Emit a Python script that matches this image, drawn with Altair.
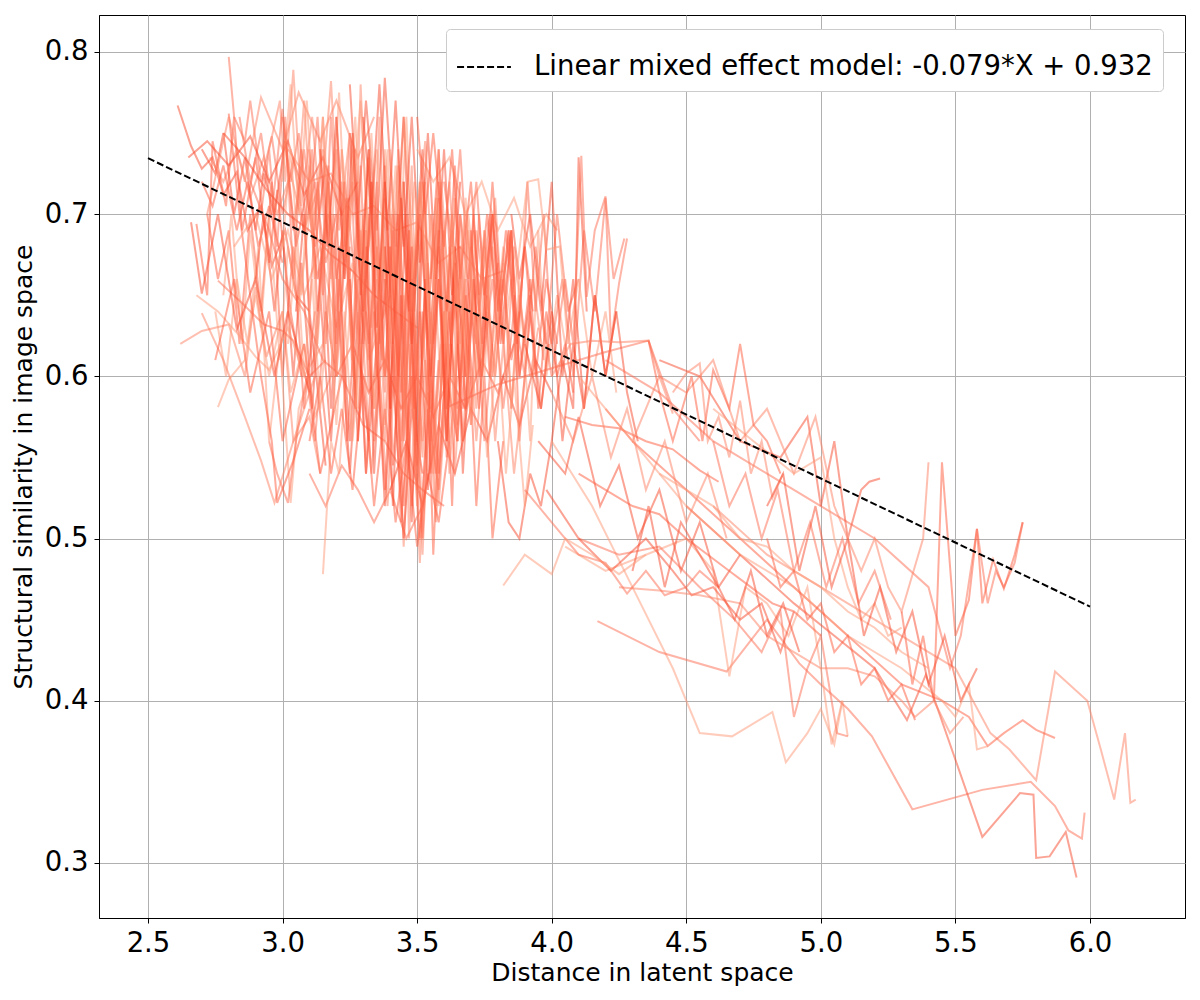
import altair as alt
import pandas as pd

# ---------------- data ----------------
# left / upper part of the dense cluster (one inner list per trajectory)
upper_x = [
    [2.61,2.66,2.70,2.74,2.78,2.83,2.87,2.92,2.96,3.01,3.05,3.10,3.16],
    [2.62,2.70,2.80,2.86,2.90,2.94,3.00,3.04,3.10,3.14],
    [2.68,2.72,2.74,2.79,2.82,2.85,2.90,2.95,2.98,3.03,3.07],
    [2.76,2.80,2.86,2.90,2.95,3.00,3.03,3.08,3.12,3.18],
    [2.80,2.82,2.86,2.88,2.92,2.96,3.00,3.04,3.08,3.12,3.16,3.20],
    [2.70,2.75,2.78,2.82,2.86,2.90,2.93,2.97,3.01,3.05,3.09,3.13,3.17],
    [2.95,2.99,3.01,3.04,3.07,3.11,3.14,3.18,3.21,3.25,3.29,3.32,3.36],
    [2.72,2.76,2.80,2.84,2.88,2.92,2.96,3.00,3.04,3.08,3.12],
    [2.75,2.79,2.83,2.87,2.91,2.95,2.99,3.03,3.06,3.10],
    [2.84,2.88,2.92,2.96,3.00,3.04,3.08,3.12,3.16,3.20,3.24,3.28],
    [2.90,2.93,2.97,3.00,3.04,3.07,3.11,3.14,3.18,3.21,3.25,3.28,3.32],
    [2.73,2.78,2.83,2.88,2.93,2.98,3.03,3.08,3.13],
    [2.70,2.74,2.78,2.83,2.87,2.91,2.95,3.00],
    [2.78,2.81,2.85,2.88,2.92,2.95,2.99,3.02,3.06,3.10],
    [2.95,2.98,3.02,3.05,3.09,3.12,3.16,3.20],
]
upper_y = [
    [.767,.742,.728,.735,.712,.726,.690,.705,.668,.690,.650,.640,.545],
    [.620,.628,.632,.600,.655,.612,.640,.560,.575,.540],
    [.694,.650,.745,.705,.760,.690,.735,.670,.715,.640,.600],
    [.581,.598,.610,.650,.600,.640,.590,.620,.575,.600],
    [.797,.760,.745,.770,.720,.748,.700,.735,.690,.720,.670,.700],
    [.740,.725,.750,.700,.735,.690,.725,.700,.745,.680,.715,.660,.700],
    [.740,.770,.720,.789,.705,.760,.700,.782,.690,.750,.675,.735,.660],
    [.700,.660,.690,.620,.700,.640,.720,.600,.680,.580,.640],
    [.640,.600,.660,.620,.680,.560,.620,.522,.580,.600],
    [.760,.720,.750,.700,.765,.690,.740,.680,.730,.660,.710,.640],
    [.660,.700,.640,.690,.600,.670,.580,.650,.560,.640,.540,.620,.560],
    [.735,.720,.740,.710,.735,.700,.725,.690,.715],
    [.720,.705,.730,.690,.720,.680,.705,.670],
    [.650,.700,.620,.690,.630,.700,.610,.680,.640,.700],
    [.560,.540,.522,.560,.600,.560,.640,.600],
]

# slanted trajectories crossing the cluster
diag_x = [
    [2.66,2.70,2.76,2.83,2.90,2.97,3.02,3.10],
    [2.70,2.78,2.86,2.92,2.97,3.04,3.12],
    [2.80,2.84,2.88,2.92,2.96,2.98,3.04,3.10],
    [2.68,2.76,2.84,2.90,2.95,3.02,3.08,3.15],
    [2.76,2.85,2.93,3.00,3.04,3.10,3.16],
    [2.65,2.72,2.80,2.88,2.95,3.02,3.08,3.15,3.22,3.28],
    [2.72,2.80,2.86,2.92,3.00,3.06,3.14,3.20,3.28,3.34],
    [2.75,2.82,2.88,2.95,3.00,3.08,3.14,3.22],
    [2.82,2.90,2.96,3.02,3.08,3.14,3.20,3.26,3.32,3.40],
    [2.88,2.95,3.00,3.08,3.15,3.22,3.30,3.38,3.45,3.52,3.60],
    [2.78,2.86,2.94,3.02,3.10,3.18,3.26,3.34,3.42,3.50],
    [3.02,3.10,3.18,3.26,3.34,3.42,3.50,3.58,3.66,3.74,3.82],
    [3.20,3.26,3.32,3.38,3.44,3.50,3.56,3.62,3.68,3.74,3.80,3.86],
    [3.50,3.56,3.62,3.68,3.74,3.80,3.86,3.92,3.98,4.02],
    [3.10,3.16,3.22,3.28,3.34,3.40,3.46,3.52],
    [3.40,3.46,3.52,3.58,3.64,3.70,3.76,3.82,3.88,3.94,4.00],
]
diag_y = [
    [.695,.651,.700,.629,.660,.600,.640,.590],
    [.639,.610,.575,.548,.522,.560,.600],
    [.762,.700,.650,.600,.560,.522,.548,.580],
    [.650,.640,.625,.612,.604,.630,.600,.620],
    [.659,.645,.632,.628,.622,.600,.610],
    [.735,.745,.730,.748,.720,.745,.712,.735,.700,.720],
    [.700,.760,.720,.772,.740,.775,.745,.770,.735,.760],
    [.610,.660,.590,.640,.560,.620,.540,.600],
    [.680,.700,.660,.690,.650,.680,.630,.670,.610,.650],
    [.720,.690,.660,.640,.610,.600,.570,.560,.540,.530,.520],
    [.750,.735,.715,.700,.690,.675,.665,.650,.640,.630],
    [.740,.720,.725,.700,.705,.690,.695,.670,.680,.660,.665],
    [.600,.620,.590,.610,.580,.600,.575,.600,.580,.610,.590,.620],
    [.740,.720,.735,.700,.720,.690,.710,.680,.700,.690],
    [.540,.520,.545,.530,.510,.530,.500,.520],
    [.530,.560,.520,.570,.540,.580,.560,.600,.570,.610,.590],
]

# core of the cluster (x 3.0 - 3.7)
core_x = [
    [3.05,3.08,3.12,3.15,3.18,3.22,3.26,3.29,3.33,3.36,3.40,3.43,3.46,3.50],
    [3.10,3.13,3.17,3.20,3.24,3.27,3.31,3.34,3.38,3.41,3.45,3.48,3.52,3.55,3.58],
    [3.15,3.18,3.21,3.25,3.28,3.32,3.35,3.38,3.42,3.45,3.49,3.52,3.56,3.60,3.64],
    [3.20,3.23,3.27,3.30,3.33,3.37,3.40,3.44,3.47,3.50,3.54,3.57,3.61,3.65],
    [3.25,3.28,3.31,3.35,3.38,3.42,3.45,3.48,3.52,3.55,3.58,3.62,3.66,3.70],
    [3.30,3.33,3.36,3.39,3.42,3.45,3.48,3.51,3.54,3.57,3.61,3.64,3.68,3.72,3.76],
    [3.35,3.38,3.41,3.44,3.47,3.50,3.53,3.56,3.60,3.63,3.66,3.70,3.73,3.77,3.80],
    [3.40,3.43,3.46,3.49,3.52,3.55,3.58,3.61,3.64,3.68,3.71,3.75,3.78,3.82,3.85],
    [3.00,3.03,3.06,3.10,3.13,3.16,3.20,3.23,3.26,3.30,3.33,3.36,3.40,3.43],
    [3.05,3.08,3.11,3.15,3.18,3.21,3.25,3.28,3.31,3.35,3.38,3.41,3.45,3.48,3.52],
    [3.12,3.15,3.18,3.22,3.25,3.28,3.32,3.35,3.38,3.42,3.45,3.48,3.52,3.55],
    [3.18,3.21,3.24,3.28,3.31,3.34,3.38,3.41,3.44,3.48,3.51,3.54,3.58,3.61,3.65],
    [3.22,3.25,3.29,3.32,3.35,3.39,3.42,3.45,3.49,3.52,3.55,3.59,3.62,3.66,3.69,3.73],
    [3.28,3.31,3.34,3.38,3.41,3.44,3.48,3.51,3.54,3.58,3.61,3.64,3.68,3.71,3.75,3.78],
    [3.28,3.30,3.33,3.35,3.38,3.40,3.43,3.45,3.48,3.50,3.53,3.55],
    [3.38,3.40,3.43,3.45,3.48,3.50,3.53,3.55,3.58,3.60,3.63,3.65,3.68],
    [3.10,3.14,3.18,3.22,3.26,3.30,3.34,3.38,3.42,3.46,3.50,3.54,3.58,3.62],
    [3.00,3.03,3.07,3.10,3.13,3.17,3.20,3.23,3.27,3.30,3.34,3.37,3.40],
    [3.15,3.18,3.22,3.25,3.28,3.32,3.35,3.38,3.42,3.45,3.48,3.52],
    [3.25,3.28,3.31,3.34,3.38,3.41,3.44,3.48,3.51,3.54,3.58,3.61,3.64,3.68],
    [3.45,3.47,3.50,3.52,3.55,3.57,3.60,3.62,3.65,3.67,3.70],
    [3.42,3.45,3.48,3.52,3.55,3.58,3.62,3.65,3.68,3.72,3.75,3.78,3.82],
]
core_y = [
    [.700,.770,.660,.760,.620,.740,.600,.780,.630,.760,.580,.730,.560,.700],
    [.740,.640,.720,.600,.705,.580,.690,.560,.680,.545,.650,.520,.640,.540,.610],
    [.478,.560,.540,.640,.580,.700,.620,.740,.650,.760,.660,.720,.620,.690,.600],
    [.760,.680,.740,.640,.720,.610,.700,.590,.690,.560,.670,.540,.650,.580],
    [.780,.700,.770,.690,.784,.680,.760,.640,.740,.620,.720,.600,.700,.640],
    [.620,.540,.600,.520,.620,.495,.600,.485,.590,.510,.620,.540,.650,.560,.640],
    [.700,.600,.690,.550,.680,.530,.660,.490,.640,.520,.680,.570,.700,.600,.670],
    [.740,.660,.760,.640,.720,.600,.740,.620,.710,.580,.690,.600,.680,.620,.660],
    [.760,.720,.750,.700,.760,.680,.740,.660,.720,.640,.700,.620,.680,.600],
    [.640,.700,.600,.680,.580,.660,.560,.640,.540,.620,.520,.600,.500,.580,.540],
    [.700,.740,.660,.720,.640,.700,.620,.680,.600,.660,.580,.650,.560,.620],
    [.600,.680,.560,.660,.540,.640,.530,.620,.510,.600,.500,.580,.530,.600,.560],
    [.740,.690,.770,.680,.740,.650,.730,.640,.720,.610,.700,.590,.680,.620,.700,.640],
    [.560,.640,.580,.680,.600,.700,.620,.720,.640,.710,.600,.680,.580,.660,.560,.620],
    [.700,.620,.720,.600,.710,.580,.700,.560,.680,.545,.660,.580],
    [.720,.640,.740,.620,.730,.600,.720,.590,.700,.600,.690,.570,.650],
    [.560,.600,.540,.580,.530,.600,.520,.580,.510,.560,.495,.540,.510,.560],
    [.680,.740,.650,.730,.620,.720,.600,.710,.590,.700,.580,.680,.620],
    [.650,.760,.640,.750,.620,.740,.600,.730,.590,.720,.580,.700],
    [.660,.560,.680,.540,.660,.520,.650,.510,.640,.530,.660,.560,.680,.600],
    [.640,.500,.620,.490,.600,.520,.640,.540,.620,.560,.600],
    [.600,.520,.620,.500,.600,.540,.640,.560,.660,.520,.600,.500,.560],
]

# extra trajectories filling the densest part of the cluster
dense_x = [
    [3.00,3.03,3.06,3.09,3.12,3.15,3.18,3.21,3.24,3.27,3.30,3.33,3.36,3.39,3.42,3.45],
    [3.08,3.11,3.14,3.17,3.20,3.23,3.26,3.29,3.32,3.35,3.38,3.41,3.44,3.47,3.50],
    [3.30,3.33,3.36,3.39,3.42,3.45,3.48,3.51,3.54,3.57,3.60,3.63,3.66],
    [3.20,3.23,3.26,3.29,3.32,3.35,3.38,3.41,3.44,3.47,3.50,3.53,3.56,3.59],
    [3.40,3.43,3.46,3.49,3.52,3.55,3.58,3.61,3.64,3.67,3.70,3.73,3.76],
    [3.48,3.51,3.54,3.57,3.60,3.63,3.66,3.69,3.72,3.75,3.78,3.81],
    [2.92,2.95,2.98,3.01,3.04,3.07,3.10,3.13,3.16,3.19,3.22,3.25],
    [3.14,3.17,3.20,3.23,3.26,3.29,3.32,3.35,3.38,3.41,3.44,3.47],
    [3.35,3.38,3.41,3.44,3.47,3.50,3.53,3.56,3.59,3.62,3.65],
    [3.55,3.58,3.61,3.64,3.67,3.70,3.73,3.76,3.79,3.82,3.85,3.88],
    [3.02,3.05,3.08,3.11,3.14,3.17,3.20,3.23,3.26,3.29],
    [3.60,3.63,3.66,3.69,3.72,3.75,3.78,3.81,3.84,3.87,3.90,3.93],
]
dense_y = [
    [.720,.780,.700,.770,.690,.760,.680,.775,.670,.760,.660,.750,.650,.740,.640,.720],
    [.690,.740,.650,.730,.620,.720,.610,.730,.600,.720,.590,.700,.580,.690,.600],
    [.760,.700,.780,.690,.770,.680,.760,.670,.750,.660,.740,.650,.720],
    [.640,.700,.610,.690,.590,.680,.570,.660,.560,.650,.540,.640,.560,.620],
    [.680,.600,.700,.580,.690,.560,.680,.550,.670,.580,.690,.600,.660],
    [.660,.720,.640,.710,.620,.700,.610,.690,.600,.680,.620,.660],
    [.700,.740,.680,.760,.660,.740,.640,.720,.620,.700,.600,.680],
    [.740,.680,.760,.660,.750,.650,.740,.630,.720,.620,.710,.640],
    [.620,.560,.640,.540,.620,.520,.610,.540,.630,.560,.600],
    [.600,.660,.580,.650,.560,.640,.580,.650,.600,.660,.610,.640],
    [.620,.680,.600,.660,.580,.650,.570,.640,.560,.620],
    [.720,.680,.740,.660,.720,.650,.700,.640,.690,.620,.680,.640],
]

# right edge of the cluster (x 3.45 - 4.3)
edge_x = [
    [3.45,3.48,3.51,3.55,3.58,3.61,3.64,3.67,3.71,3.74,3.78,3.81,3.85,3.88,3.92],
    [3.50,3.53,3.56,3.59,3.63,3.66,3.69,3.72,3.76,3.79,3.83,3.86,3.90,3.93,3.97],
    [3.55,3.58,3.61,3.64,3.68,3.71,3.74,3.78,3.81,3.85,3.88,3.92,3.96,3.99],
    [3.62,3.65,3.68,3.72,3.75,3.78,3.82,3.85,3.88,3.92,3.95,3.98,4.02,4.05],
    [3.70,3.73,3.77,3.80,3.84,3.87,3.91,3.94,3.97,4.00,4.04,4.08,4.12,4.16,4.20,4.23,4.27],
    [3.80,3.84,3.88,3.92,3.96,4.00,4.04,4.08,4.10,4.13],
    [3.35,3.38,3.42,3.45,3.48,3.52,3.55,3.58,3.62,3.65,3.68,3.72,3.75,3.79,3.82,3.86,3.90],
    [3.50,3.53,3.56,3.60,3.63,3.66,3.70,3.73,3.76,3.80,3.83,3.87,3.90,3.94,3.98,4.02],
    [3.60,3.63,3.66,3.70,3.73,3.76,3.80,3.83,3.86,3.90,3.93],
    [3.70,3.74,3.78,3.82,3.86,3.90,3.94,3.98,4.02,4.06,4.10],
    [3.85,3.88,3.92,3.96,4.00,4.04,4.08,4.12,4.16,4.20,4.24],
    [3.55,3.58,3.62,3.65,3.68,3.72,3.75,3.78,3.82,3.85,3.88,3.92,3.95],
    [3.75,3.78,3.82,3.85,3.88,3.92,3.95,3.98,4.02,4.05,4.08],
    [3.86,3.91,3.95,3.98,4.03,4.06,4.10,4.15,4.20,4.24],
    [3.96,4.00,4.05,4.08,4.11,4.13,4.16,4.20,4.22,4.25,4.28],
    [3.90,3.96,4.00,4.04,4.08,4.12,4.16,4.20,4.24,4.28,4.32],
    [4.00,4.07,4.15,4.25,4.36,4.40,4.45],
    [4.05,4.15,4.25,4.35,4.45,4.55,4.62],
]
edge_y = [
    [.720,.620,.700,.600,.690,.560,.670,.540,.660,.600,.700,.620,.690,.600,.650],
    [.690,.745,.650,.720,.620,.700,.600,.690,.640,.710,.600,.680,.620,.660,.610],
    [.660,.740,.640,.730,.600,.700,.620,.720,.650,.690,.560,.640,.580,.620],
    [.700,.640,.710,.620,.690,.600,.680,.580,.660,.560,.690,.600,.650,.620],
    [.680,.640,.700,.620,.690,.600,.720,.640,.700,.620,.660,.600,.690,.640,.710,.660,.685],
    [.560,.510,.500,.540,.520,.560,.610,.580,.735,.640],
    [.660,.600,.680,.580,.660,.550,.640,.520,.620,.560,.640,.580,.660,.560,.620,.540,.600],
    [.760,.700,.750,.680,.740,.660,.720,.650,.700,.640,.690,.620,.680,.600,.660,.620],
    [.640,.580,.660,.570,.640,.550,.620,.540,.600,.520,.570],
    [.640,.600,.660,.580,.640,.600,.680,.620,.700,.640,.660],
    [.700,.660,.700,.640,.720,.600,.660,.580,.650,.600,.640],
    [.700,.650,.720,.640,.700,.620,.690,.600,.670,.580,.650,.600,.630],
    [.650,.700,.620,.690,.600,.660,.580,.640,.600,.620,.590],
    [.650,.720,.7215,.678,.680,.620,.660,.600,.640,.590],
    [.640,.600,.660,.620,.736,.649,.690,.711,.622,.657,.685],
    [.620,.580,.640,.560,.620,.580,.650,.600,.640,.590,.560],
    [.600,.620,.622,.621,.622,.600,.577],
    [.575,.570,.568,.560,.555,.542,.535],
]

# long tail towards larger distances
tail_x = [
    [4.00,4.15,4.30,4.45,4.55,4.67,4.82,4.87,4.95,5.00,5.05,5.08,5.10],
    [4.17,4.40,4.65,4.80,4.92,5.00,5.10,5.19,5.34,5.60,5.78,5.87,5.92,5.97,5.98],
    [4.50,4.70,4.90,5.05,5.20,5.32,5.39,5.60,5.74,5.79,5.80,5.85,5.91,5.95],
    [4.60,4.80,5.00,5.20,5.40,5.50,5.63,5.70,5.80,5.87,5.99,6.04,6.09,6.13,6.15,6.17],
    [4.30,4.50,4.70,4.90,5.10,5.30,5.45,5.55,5.62,5.68,5.75,5.80,5.87],
    [4.10,4.30,4.50,4.70,4.90,5.10,5.30,5.45,5.50,5.55,5.58,5.62],
    [4.20,4.40,4.60,4.80,5.00,5.20,5.40,5.48,5.52,5.58,5.62,5.65,5.68,5.72,5.75],
    [4.40,4.55,4.70,4.85,4.95,5.00,5.05,5.10,5.15,5.18,5.22],
    [4.20,4.30,4.40,4.50,4.60,4.70,4.80,4.90,4.98,5.05,5.10,5.15,5.20,5.25,5.30,5.38,5.40],
    [4.36,4.40,4.45,4.52,4.56,4.60,4.66,4.70,4.75,4.80,4.85],
    [4.05,4.20,4.35,4.50,4.60,4.66,4.72,4.80,4.88,4.95,5.00,5.04,5.08],
    [4.10,4.25,4.40,4.55,4.68,4.78,4.85,4.90,4.95,5.00,5.06,5.10],
    [3.98,4.10,4.22,4.35,4.45,4.52,4.60,4.70,4.78,4.85,4.90],
    [4.25,4.40,4.55,4.70,4.80,4.90,5.00,5.10,5.20,5.30,5.35,5.42,5.48,5.53],
    [5.30,5.34,5.38,5.42,5.45,5.50,5.55,5.58,5.60,5.64,5.68,5.72,5.75],
    [4.60,4.75,4.90,5.00,5.05,5.10,5.15,5.20,5.25,5.30],
    [3.90,4.00,4.10,4.20,4.28,4.35,4.42,4.50,4.55,4.62],
    [4.30,4.36,4.42,4.48,4.55,4.62,4.68,4.74,4.80,4.86,4.92],
    [4.45,4.50,4.55,4.58,4.62,4.66,4.70,4.74,4.78,4.82,4.86],
    [4.80,4.85,4.90,4.95,5.00,5.05,5.10,5.15,5.20,5.25,5.30,5.35],
    [3.82,3.90,4.00,4.05,4.15,4.25,4.35],
    [3.60,3.80,4.00,4.20,4.36,4.45,4.55],
]
tail_y = [
    [.560,.520,.470,.420,.380,.378,.393,.362,.380,.395,.373,.400,.378],
    [.449,.430,.418,.450,.423,.410,.395,.378,.333,.345,.350,.335,.320,.315,.331],
    [.520,.490,.460,.440,.420,.388,.416,.316,.343,.342,.303,.304,.319,.291],
    [.520,.490,.470,.450,.430,.420,.380,.370,.351,.418,.400,.370,.339,.380,.337,.339],
    [.560,.530,.500,.470,.440,.410,.400,.390,.372,.380,.388,.382,.377],
    [.600,.560,.520,.490,.470,.440,.420,.400,.390,.410,.370,.372],
    [.610,.590,.560,.540,.520,.500,.470,.420,.440,.506,.460,.480,.470,.485,.510],
    [.610,.600,.560,.550,.575,.520,.560,.500,.530,.535,.537],
    [.580,.560,.600,.590,.610,.560,.580,.540,.575,.520,.500,.480,.500,.470,.455,.500,.547],
    [.622,.590,.560,.600,.560,.604,.580,.620,.570,.560,.540],
    [.495,.480,.490,.500,.480,.415,.470,.460,.440,.470,.420,.373,.400],
    [.500,.490,.495,.470,.450,.430,.455,.390,.420,.440,.380,.378],
    [.530,.500,.480,.500,.480,.465,.470,.450,.460,.430,.455],
    [.470,.468,.465,.460,.440,.430,.420,.420,.415,.400,.390,.400,.380,.390],
    [.455,.410,.440,.400,.547,.440,.462,.506,.460,.487,.469,.490,.510],
    [.580,.560,.540,.550,.500,.470,.450,.460,.440,.445],
    [.530,.510,.490,.485,.466,.480,.465,.470,.480,.470],
    [.480,.520,.470,.510,.490,.470,.450,.480,.440,.460,.430],
    [.590,.602,.608,.560,.575,.550,.585,.540,.560,.525,.540],
    [.500,.470,.480,.450,.460,.430,.440,.410,.420,.400,.410,.388],
    [.471,.490,.478,.500,.490,.478,.490],
    [.580,.595,.605,.615,.622,.580,.560],
]

# extra tail trajectories between x 4.0 and 5.6
low_x = [
    [3.95,4.05,4.10,4.18,4.25,4.32,4.40,4.48,4.55,4.62,4.70],
    [4.00,4.08,4.15,4.22,4.28,4.35,4.42,4.50,4.58,4.65],
    [4.10,4.20,4.30,4.40,4.50,4.58,4.66,4.74,4.82,4.90,5.00],
    [4.40,4.50,4.60,4.70,4.80,4.90,5.00,5.10,5.20,5.30,5.40],
    [4.60,4.66,4.72,4.78,4.84,4.90,4.96,5.02,5.08,5.14,5.20,5.26],
    [4.80,4.86,4.92,4.98,5.04,5.10,5.16,5.22,5.28,5.34,5.40,5.46,5.52,5.58],
]
low_y = [
    [.560,.540,.575,.520,.545,.500,.530,.480,.510,.470,.490],
    [.590,.560,.600,.550,.580,.530,.560,.510,.540,.500],
    [.540,.530,.520,.515,.500,.490,.480,.470,.460,.455,.440],
    [.540,.530,.520,.500,.495,.480,.470,.455,.445,.430,.420],
    [.560,.520,.540,.500,.530,.480,.510,.470,.500,.460,.480,.450],
    [.520,.540,.480,.520,.470,.500,.440,.470,.430,.455,.410,.440,.400,.420],
]

# linear mixed effect model line (-0.079*X + 0.932) end points
model_x = [2.5, 6.0]
model_y = [0.7345, 0.458]
model_label = "Linear mixed effect model: -0.079*X + 0.932"

x_ticks = [2.5, 3.0, 3.5, 4.0, 4.5, 5.0, 5.5, 6.0]
y_ticks = [0.3, 0.4, 0.5, 0.6, 0.7, 0.8]

# ---------------- build table ----------------
shades = ["s0", "s1", "s2", "s3", "s4"]
shade_colors = ["#f8482a", "#ff5a3c", "#fd6a4d", "#ff8062", "#ff9a78"]

rows = []
sid = 0
groups = [(upper_x, upper_y), (diag_x, diag_y), (core_x, core_y), (dense_x, dense_y),
          (edge_x, edge_y), (tail_x, tail_y), (low_x, low_y)]
for gx, gy in groups:
    for xs, ys in zip(gx, gy):
        shade = shades[(sid * 3) % 5]
        for k, (xv, yv) in enumerate(zip(xs, ys)):
            rows.append({"sid": sid, "k": k, "x": xv, "y": yv, "shade": shade})
        sid += 1
df = pd.DataFrame(rows)

model_df = pd.DataFrame({"x": model_x, "y": model_y, "label": [model_label] * 2})

xscale = alt.Scale(domain=[2.318, 6.353], nice=False, zero=False)
yscale = alt.Scale(domain=[0.266, 0.8228], nice=False, zero=False)

FONT = "DejaVu Sans"

lines = alt.Chart(df).mark_line(strokeWidth=2, opacity=0.5).encode(
    x=alt.X("x:Q", scale=xscale,
            axis=alt.Axis(values=x_ticks, format=".1f", title="Distance in latent space")),
    y=alt.Y("y:Q", scale=yscale,
            axis=alt.Axis(values=y_ticks, format=".1f", title="Structural similarity in image space")),
    color=alt.Color("shade:N", scale=alt.Scale(domain=shades, range=shade_colors), legend=None),
    detail="sid:N",
    order="k:Q",
)

model = alt.Chart(model_df).mark_line(color="black", strokeWidth=2).encode(
    x=alt.X("x:Q", scale=xscale),
    y=alt.Y("y:Q", scale=yscale),
    strokeDash=alt.StrokeDash(
        "label:N",
        scale=alt.Scale(domain=[model_label], range=[[7, 3]]),
        legend=alt.Legend(
            title=None, orient="none", legendX=347, legendY=14,
            symbolType="stroke", symbolStrokeColor="black", symbolStrokeWidth=2,
            symbolSize=2900, labelFontSize=27.5, labelFont=FONT, labelColor="black",
            labelOffset=22, padding=10, fillColor="white", strokeColor="#cccccc",
            cornerRadius=4, labelLimit=1000,
        ),
    ),
)

chart = alt.layer(lines, model).properties(
    width=1086, height=903,
    padding={"left": 3, "top": 7, "right": 5, "bottom": 5},
).configure_view(
    stroke="black", strokeWidth=1,
).configure_axis(
    labelFont=FONT, labelFontSize=27.5, labelColor="black",
    titleFont=FONT, titleFontSize=25, titleFontWeight="normal", titleColor="black",
    gridColor="#b0b0b0", gridWidth=1, domainColor="black", domainWidth=1,
    tickColor="black", tickSize=5, tickWidth=1, labelPadding=6, titlePadding=8,
).configure_axisX(titlePadding=4)

chart.save("out.html", embed_options={"renderer": "svg", "actions": False})
